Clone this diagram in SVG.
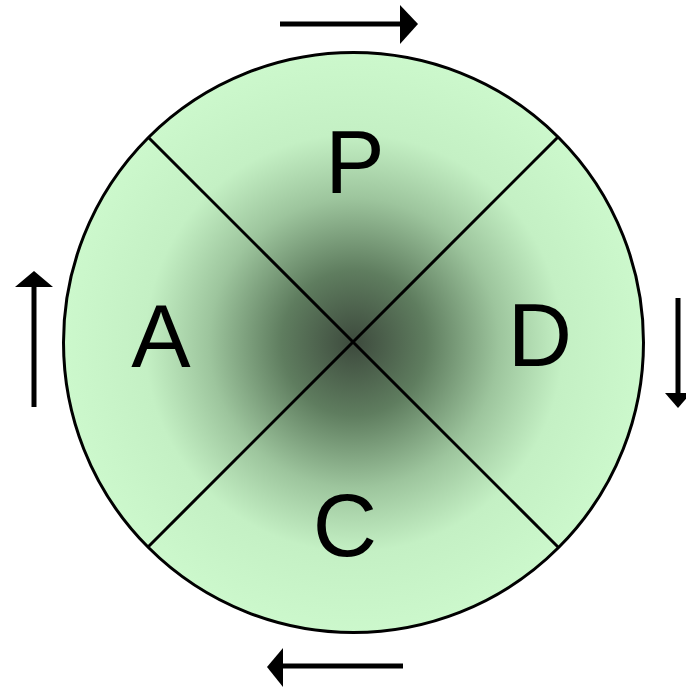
<svg xmlns="http://www.w3.org/2000/svg" width="686" height="689" viewBox="0 0 686 689">
  <defs>
    <radialGradient id="g" cx="354" cy="343" r="290" gradientUnits="userSpaceOnUse">
      <stop offset="0" stop-color="#3d4a3d"/>
      <stop offset="0.25" stop-color="#5f7d5f"/>
      <stop offset="0.5" stop-color="#9dc59d"/>
      <stop offset="0.72" stop-color="#c4f0c4"/>
      <stop offset="1" stop-color="#ccf8cc"/>
    </radialGradient>
    <style>
      .lbl { font-family: "Liberation Sans", Arial, sans-serif; font-size: 89px; fill: #000; text-anchor: middle; }
      .ln { stroke: #000; stroke-width: 3; fill: none; }
      .arr { stroke: #000; stroke-width: 5; fill: none; }
      .head { fill: #000; }
    </style>
  </defs>
  <rect width="686" height="689" fill="#fff"/>
  <g id="circle">
    <circle cx="353.5" cy="342.5" r="290" fill="url(#g)" stroke="#000" stroke-width="3"/>
  </g>
  <g id="connectors">
    <line class="ln" x1="148" y1="137" x2="558" y2="547"/>
    <line class="ln" x1="558" y1="137" x2="148" y2="547"/>
    <line class="arr" x1="280" y1="24" x2="402" y2="24"/>
    <polygon class="head" points="400,5 418,24 400,44"/>
    <line class="arr" x1="678" y1="298" x2="678" y2="395"/>
    <polygon class="head" points="665,393 678,408 691,393"/>
    <line class="arr" x1="403" y1="666" x2="282" y2="666"/>
    <polygon class="head" points="283,648 267,667 283,687"/>
    <line class="arr" x1="34" y1="407" x2="34" y2="285"/>
    <polygon class="head" points="15,287 34,271 53,287"/>
  </g>
  <g id="P"><text class="lbl" x="355" y="193">P</text></g>
  <g id="A"><text class="lbl" x="161" y="367">A</text></g>
  <g id="D"><text class="lbl" x="540" y="366">D</text></g>
  <g id="C"><text class="lbl" x="345" y="556">C</text></g>
</svg>
